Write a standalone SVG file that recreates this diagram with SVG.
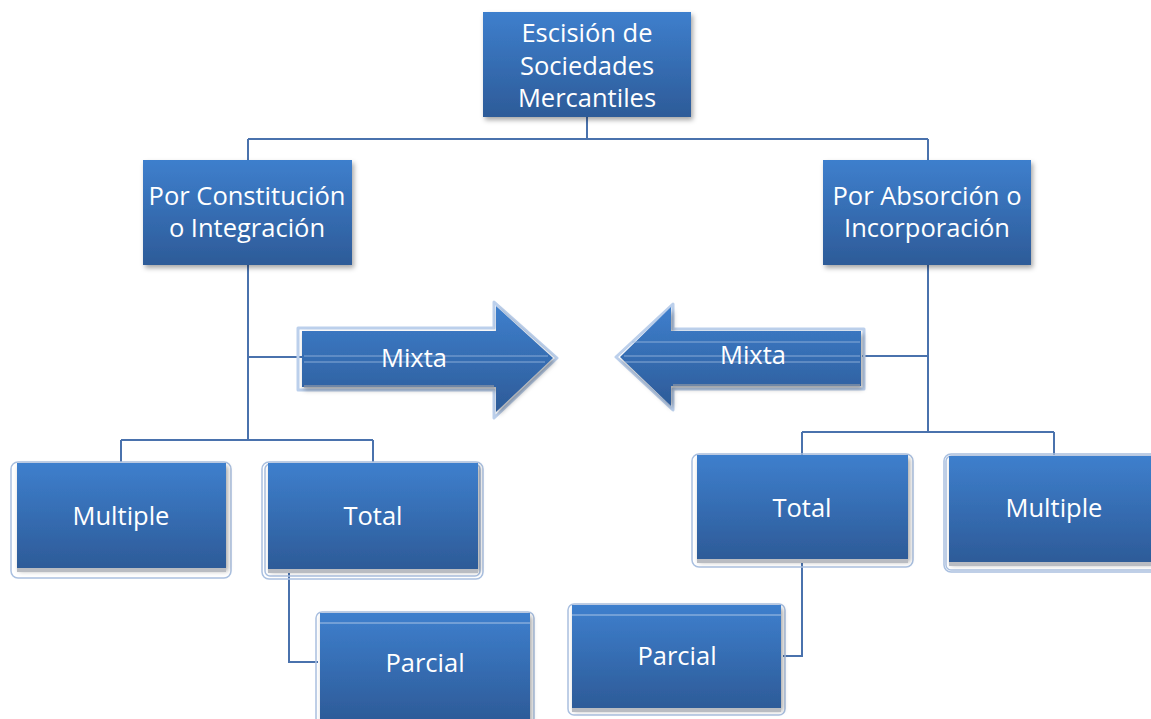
<svg xmlns="http://www.w3.org/2000/svg" width="1151" height="719" viewBox="0 0 1151 719">
<defs>
<linearGradient id="g" x1="0" y1="0" x2="0" y2="1">
<stop offset="0" stop-color="#3e7fcd"/>
<stop offset="1" stop-color="#2d5b98"/>
</linearGradient>
<filter id="sh" x="-10%" y="-10%" width="125%" height="130%">
<feDropShadow dx="2" dy="3" stdDeviation="2.5" flood-color="#000" flood-opacity="0.35"/>
</filter>
<style>
.box{fill:url(#g);filter:url(#sh)}
.rim{fill:none;stroke:#aac0e0;stroke-width:1.5}
.strip{fill:#b9bcc2}
.t{font-family:"Open Sans","Noto Sans",sans-serif;font-size:25.5px;fill:#fff;text-anchor:middle}
.c{fill:none;stroke:#4a72ad;stroke-width:2}
.art{stroke:#9fbbe0;stroke-width:1;opacity:0.8}
</style>
</defs>
<rect width="1151" height="719" fill="#fff"/>
<g id="connectors">
<path class="c" d="M587 117V139M248 139H928M248 139V160M928 139V160"/>
<path class="c" d="M248 265V440M248 357H308M121 440H373M121 440V462M373 440V462"/>
<path class="c" d="M928 265V432M862 356H928M802 432H1054M802 432V455M1054 432V455"/>
<path class="c" d="M289 570V662H318"/>
<path class="c" d="M802 562V656H783"/>
</g>
<g id="n-top">
<rect class="box" x="483" y="12" width="208" height="105"/>
<text class="t" x="587" y="42">Escisión de</text>
<text class="t" x="587" y="75">Sociedades</text>
<text class="t" x="587" y="107">Mercantiles</text>
</g>
<g id="n-constitucion">
<rect class="box" x="143" y="160" width="209" height="105"/>
<text class="t" x="247" y="205">Por Constitución</text>
<text class="t" x="247" y="237">o Integración</text>
</g>
<g id="n-absorcion">
<rect class="box" x="823" y="160" width="208" height="105"/>
<text class="t" x="927" y="205">Por Absorción o</text>
<text class="t" x="927" y="237">Incorporación</text>
</g>
<g id="n-mixta-left">
<path d="M298 328H494V302L557 358L494 418V390H298Z" fill="none" stroke="#bcd0ec" stroke-width="3" stroke-linejoin="round"/>
<path class="box" d="M302 331H496V306L553 358L496 412V387H302Z"/>
<rect x="304" y="385" width="190" height="3" fill="#9a9ea6" opacity="0.6"/>
<line class="art" x1="304" y1="356" x2="548" y2="356"/>
<line class="art" x1="304" y1="362" x2="545" y2="362"/>
<text class="t" x="414" y="367">Mixta</text>
</g>
<g id="n-mixta-right">
<path d="M864 329H673V304L616 357L673 410V389H864Z" fill="none" stroke="#bcd0ec" stroke-width="3" stroke-linejoin="round"/>
<path class="box" d="M861 331H671V307L620 357L671 406V386H861Z"/>
<rect x="673" y="384" width="187" height="3" fill="#9a9ea6" opacity="0.6"/>
<line class="art" x1="632" y1="342" x2="860" y2="342"/>
<line class="art" x1="624" y1="356" x2="860" y2="356"/>
<line class="art" x1="625" y1="362" x2="860" y2="362"/>
<text class="t" x="753" y="364">Mixta</text>
</g>
<g id="n-multiple-left">
<rect class="rim" x="11" y="462" width="220" height="116" rx="7"/>
<rect class="box" x="17" y="463" width="209" height="105"/>
<rect class="strip" x="17" y="568" width="209" height="4"/>
<text class="t" x="121" y="525">Multiple</text>
</g>
<g id="n-total-left">
<rect class="rim" x="262" y="462" width="221" height="117" rx="7"/>
<rect class="rim" x="265" y="464" width="215" height="112" rx="5"/>
<rect class="box" x="268" y="463" width="210" height="106"/>
<rect class="strip" x="268" y="569" width="210" height="4"/>
<text class="t" x="373" y="525">Total</text>
</g>
<g id="n-total-right">
<rect class="rim" x="692" y="454" width="221" height="113" rx="7"/>
<rect class="box" x="697" y="455" width="211" height="104"/>
<rect class="strip" x="697" y="559" width="211" height="4"/>
<text class="t" x="802" y="517">Total</text>
</g>
<g id="n-multiple-right">
<rect class="rim" x="944" y="454" width="215" height="118" rx="7"/>
<rect class="rim" x="946" y="456" width="213" height="114" rx="5"/>
<rect class="box" x="949" y="456" width="205" height="106"/>
<rect class="strip" x="949" y="562" width="205" height="4"/>
<text class="t" x="1054" y="517">Multiple</text>
</g>
<g id="n-parcial-left">
<rect class="rim" x="316" y="612" width="218" height="112" rx="6"/>
<rect class="box" x="320" y="613" width="210" height="108"/>
<line x1="320" y1="623" x2="530" y2="623" stroke="#a9c3e6" stroke-width="1"/>
<text class="t" x="425" y="672">Parcial</text>
</g>
<g id="n-parcial-right">
<rect class="rim" x="568" y="604" width="217" height="111" rx="6"/>
<rect class="box" x="572" y="605" width="209" height="103"/>
<line x1="572" y1="615" x2="781" y2="615" stroke="#a9c3e6" stroke-width="1"/>
<rect class="strip" x="572" y="708" width="209" height="4"/>
<text class="t" x="677" y="665">Parcial</text>
</g>
</svg>
